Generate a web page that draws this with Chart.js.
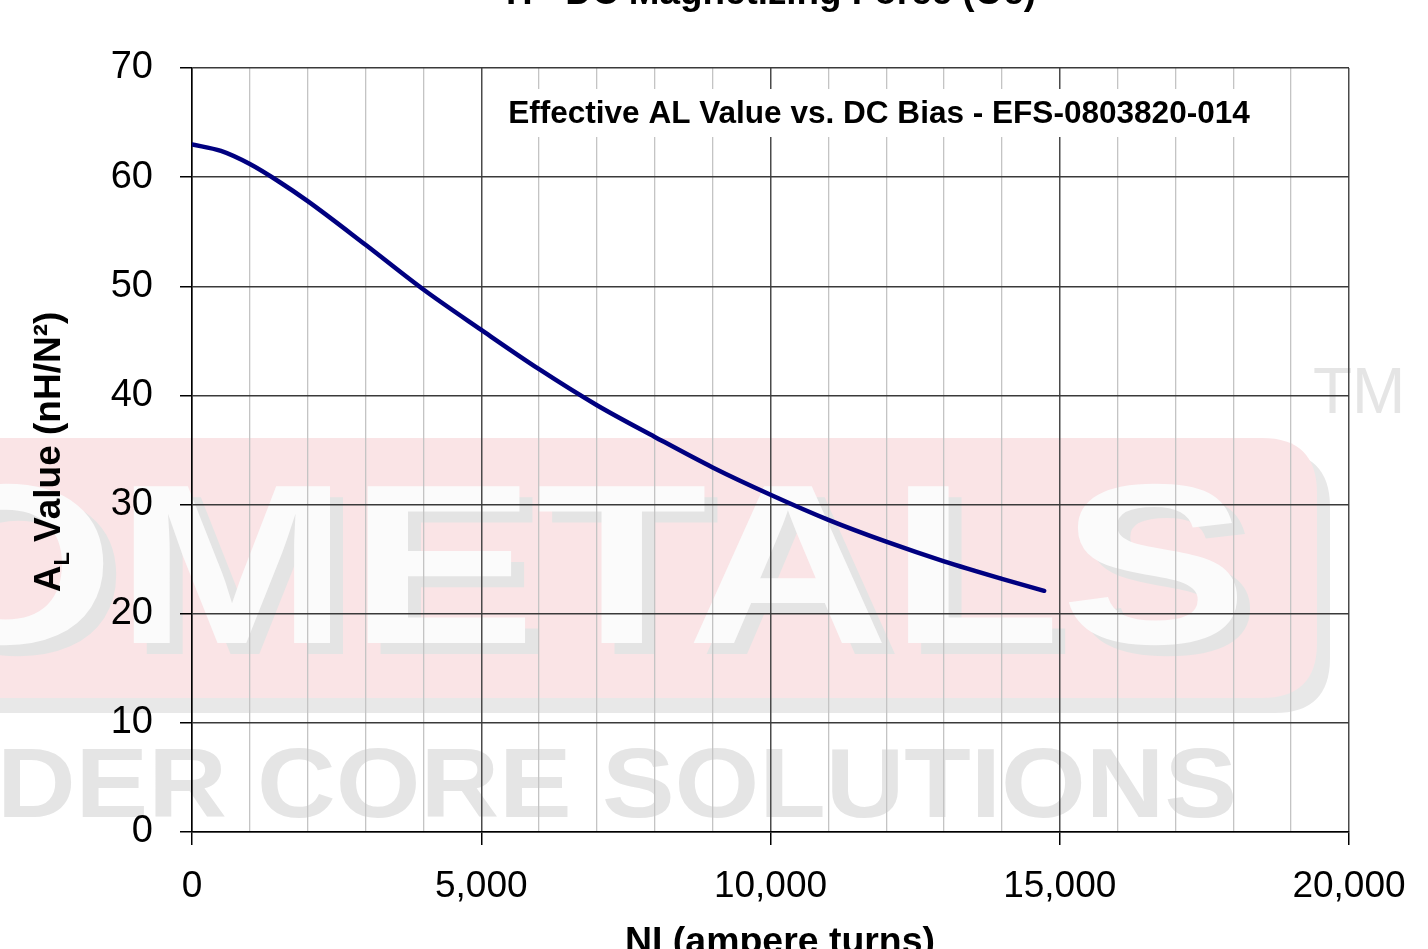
<!DOCTYPE html>
<html>
<head>
<meta charset="utf-8">
<script src="https://cdn.jsdelivr.net/npm/chart.js@4.4.1/dist/chart.umd.min.js"></script>
<style>
  html, body { margin: 0; padding: 0; background: #fff; overflow: hidden; }
  #wrap { width: 1428px; height: 949px; }
</style>
</head>
<body>
<div id="wrap"><canvas id="alChart" width="1428" height="949"></canvas></div>
<script>
// values
const niTurns = [0, 500, 1000, 1500, 2000, 3000, 4000, 5000, 6000, 7000, 8000, 9000, 10000, 11000, 12000, 13000, 14000, 14730];
const alValues = [63.0, 62.4, 61.2, 59.6, 57.8, 53.8, 49.7, 46.0, 42.4, 39.1, 36.2, 33.4, 30.9, 28.6, 26.6, 24.8, 23.2, 22.1];

const xMajorTicks = [0, 5000, 10000, 15000, 20000];
const yTicks = [0, 10, 20, 30, 40, 50, 60, 70];

const chartLabel = 'Effective AL Value vs. DC Bias - EFS-0803820-014';
const topTitle = 'H - DC Magnetizing Force (Oe)';
const xTitle = 'NI (ampere turns)';

const FONT = "'Liberation Sans', Arial, sans-serif";

function isMajor(v) {
    return xMajorTicks.includes(v);
}

// pick a font size so the text spans the wanted width
function fitSize(ctx, text, weight, width) {
    ctx.font = weight + ' 100px ' + FONT;
    return 100 * width / ctx.measureText(text).width;
}

function roundRect(ctx, x1, y1, x2, y2, r) {
    ctx.beginPath();
    ctx.moveTo(x1 + r, y1);
    ctx.lineTo(x2 - r, y1);
    ctx.quadraticCurveTo(x2, y1, x2, y1 + r);
    ctx.lineTo(x2, y2 - r);
    ctx.quadraticCurveTo(x2, y2, x2 - r, y2);
    ctx.lineTo(x1 + r, y2);
    ctx.quadraticCurveTo(x1, y2, x1, y2 - r);
    ctx.lineTo(x1, y1 + r);
    ctx.quadraticCurveTo(x1, y1, x1 + r, y1);
    ctx.closePath();
}

// faint company logo behind the grid
const watermark = {
    id: 'watermark',
    beforeDraw(chart) {
        const ctx = chart.ctx;
        ctx.save();
        ctx.fillStyle = '#e8e8e8';
        roundRect(ctx, -80, 452, 1330, 713, 55);
        ctx.fill();
        ctx.fillStyle = '#fae4e6';
        roundRect(ctx, -80, 438, 1317, 698, 55);
        ctx.fill();

        // big letters
        ctx.font = 'bold 228px ' + FONT;
        const sx = 1133 / ctx.measureText('METALS').width;
        ctx.textAlign = 'right';
        ctx.textBaseline = 'alphabetic';
        ctx.save();
        ctx.scale(sx, 1);
        ctx.fillStyle = '#e4e4e4';
        ctx.fillText('MICROMETALS', (1248 + 13) / sx, 643 + 11);
        ctx.fillStyle = '#fbfbfb';
        ctx.fillText('MICROMETALS', 1248 / sx, 643);
        ctx.restore();

        ctx.font = 'bold 98px ' + FONT;
        const sx2 = 1240 / ctx.measureText('DER CORE SOLUTIONS').width;
        ctx.save();
        ctx.scale(sx2, 1);
        ctx.fillStyle = '#e5e5e5';
        ctx.fillText('POWDER CORE SOLUTIONS', 1237 / sx2, 817);
        ctx.restore();

        ctx.fillStyle = '#e5e5e5';
        ctx.font = '64px ' + FONT;
        ctx.textAlign = 'left';
        ctx.fillText('TM', 1313, 413);
        ctx.restore();
    },
    afterDraw(chart) {
        const ctx = chart.ctx;
        ctx.save();
        ctx.fillStyle = '#000';
        ctx.textAlign = 'center';
        ctx.textBaseline = 'alphabetic';

        // label box inside the plot
        ctx.fillStyle = '#fff';
        ctx.fillRect(497, 89, 766, 48);
        ctx.fillStyle = '#000';
        ctx.font = 'bold ' + fitSize(ctx, chartLabel, 'bold', 742) + 'px ' + FONT;
        ctx.fillText(chartLabel, 879, 123);

        // secondary title, cut at the top edge
        ctx.font = 'bold ' + fitSize(ctx, topTitle, 'bold', 530) + 'px ' + FONT;
        ctx.fillText(topTitle, 771, 4);

        // x axis title, cut at the bottom edge
        ctx.font = 'bold ' + fitSize(ctx, xTitle, 'bold', 310) + 'px ' + FONT;
        ctx.fillText(xTitle, 780, 953);

        // y axis title with subscript L
        const size = 37;
        const main1 = 'A';
        const sub = 'L';
        const main2 = ' Value (nH/N\u00b2)';
        ctx.font = 'bold ' + size + 'px ' + FONT;
        const w1 = ctx.measureText(main1).width;
        const w3 = ctx.measureText(main2).width;
        ctx.font = 'bold ' + Math.round(size * 0.6) + 'px ' + FONT;
        const w2 = ctx.measureText(sub).width;
        const total = w1 + w2 + w3;
        ctx.translate(60, 452);
        ctx.rotate(-Math.PI / 2);
        ctx.textAlign = 'left';
        let x = -total / 2;
        ctx.font = 'bold ' + size + 'px ' + FONT;
        ctx.fillText(main1, x, 0);
        x += w1;
        ctx.font = 'bold ' + Math.round(size * 0.6) + 'px ' + FONT;
        ctx.fillText(sub, x, 9);
        x += w2;
        ctx.font = 'bold ' + size + 'px ' + FONT;
        ctx.fillText(main2, x, 0);
        ctx.restore();
    }
};

const points = niTurns.map((n, i) => ({ x: n, y: alValues[i] }));

const ctx1 = document.getElementById('alChart').getContext('2d');
new Chart(ctx1, {
    type: 'line',
    data: {
        datasets: [{
            label: 'AL',
            data: points,
            borderColor: '#000080',
            borderWidth: 4.5,
            borderCapStyle: 'round',
            pointRadius: 0,
            cubicInterpolationMode: 'monotone',
            fill: false
        }]
    },
    options: {
        responsive: false,
        animation: false,
        layout: { padding: { top: 68, right: 79, bottom: 0, left: 0 } },
        plugins: {
            legend: { display: false },
            tooltip: { enabled: false }
        },
        scales: {
            x: {
                type: 'linear',
                min: 0,
                max: 20000,
                afterFit(scale) { scale.height = 117; },
                afterBuildTicks(scale) {
                    const t = [];
                    for (let v = 0; v <= 20000; v += 1000) t.push({ value: v });
                    scale.ticks = t;
                },
                ticks: {
                    autoSkip: false,
                    maxRotation: 0,
                    padding: 20,
                    color: '#000',
                    font: { family: FONT, size: 37 },
                    callback: (v) => isMajor(v) ? v.toLocaleString('en-US') : ''
                },
                grid: {
                    color: (c) => c.tick && isMajor(c.tick.value) ? '#4a4a4a' : '#c4c4c4',
                    lineWidth: (c) => c.tick && isMajor(c.tick.value) ? 1.5 : 1.3,
                    tickLength: 13,
                    tickColor: (c) => c.tick && isMajor(c.tick.value) ? '#000' : 'rgba(0,0,0,0)'
                },
                border: { color: '#000', width: 1.5 }
            },
            y: {
                min: 0,
                max: 70,
                afterFit(scale) { scale.width = 192; },
                afterBuildTicks(scale) {
                    scale.ticks = yTicks.map(v => ({ value: v }));
                },
                ticks: {
                    padding: 27,
                    color: '#000',
                    font: { family: FONT, size: 38 }
                },
                grid: {
                    color: '#3a3a3a',
                    lineWidth: 1.5,
                    tickLength: 12,
                    tickColor: '#000'
                },
                border: { color: '#000', width: 1.5 }
            }
        }
    },
    plugins: [watermark]
});
</script>
</body>
</html>
